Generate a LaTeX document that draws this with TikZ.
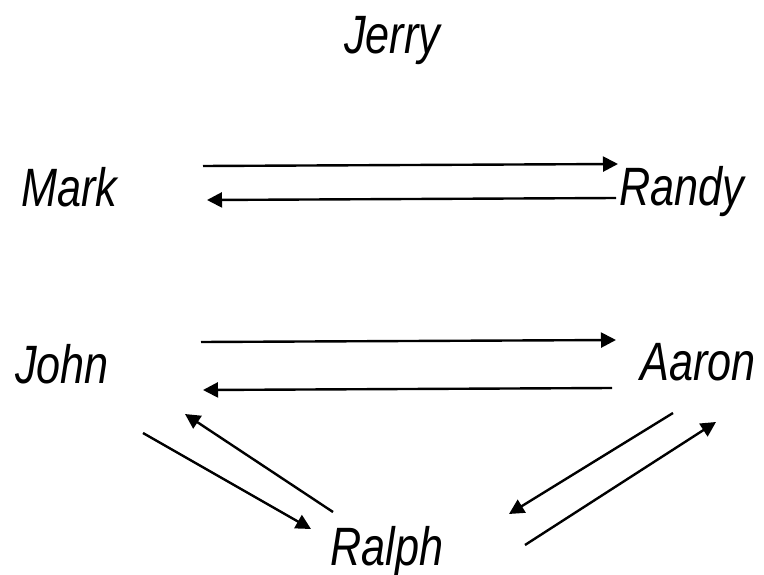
\documentclass[tikz,border=0pt]{standalone}
\usepackage{fontspec}
\setmainfont{Liberation Sans}[FakeStretch=0.8]
\usetikzlibrary{arrows.meta}
\begin{document}
\begin{tikzpicture}[x=1pt,y=-1pt,
  person/.style={anchor=base west,inner sep=0pt,font=\fontsize{54}{64}\selectfont\itshape},
  link/.style={line width=2.4pt,-{Triangle[length=15pt,width=15pt]}}]
\useasboundingbox (0,0) rectangle (764,575);

% people
\node[person] (jerry) at (344,54) {Jerry};
\node[person] (mark)  at (21,207) {Mark};
\node[person] (randy) at (619,206) {Randy};
\node[person] (john)  at (15,383) {John};
\node[person] (aaron) at (640,380) {Aaron};
\node[person] (ralph) at (330,565) {Ralph};

% arrow end points
\coordinate (mr-s) at (203,166); \coordinate (mr-e) at (618,164);
\coordinate (rm-s) at (616,198); \coordinate (rm-e) at (207,200);
\coordinate (ja-s) at (201,342); \coordinate (ja-e) at (616,340);
\coordinate (aj-s) at (612,388); \coordinate (aj-e) at (203,390);
\coordinate (jr-s) at (143,433); \coordinate (jr-e) at (311,529);
\coordinate (rj-s) at (333,512); \coordinate (rj-e) at (185,414);
\coordinate (ar-s) at (673,413); \coordinate (ar-e) at (509,514);
\coordinate (ra-s) at (525,545); \coordinate (ra-e) at (716,422);

% Mark <-> Randy
\draw[link] (mr-s) -- (mr-e);
\draw[link] (rm-s) -- (rm-e);
% John <-> Aaron
\draw[link] (ja-s) -- (ja-e);
\draw[link] (aj-s) -- (aj-e);
% John <-> Ralph
\draw[link] (jr-s) -- (jr-e);
\draw[link] (rj-s) -- (rj-e);
% Aaron <-> Ralph
\draw[link] (ar-s) -- (ar-e);
\draw[link] (ra-s) -- (ra-e);
\end{tikzpicture}
\end{document}
